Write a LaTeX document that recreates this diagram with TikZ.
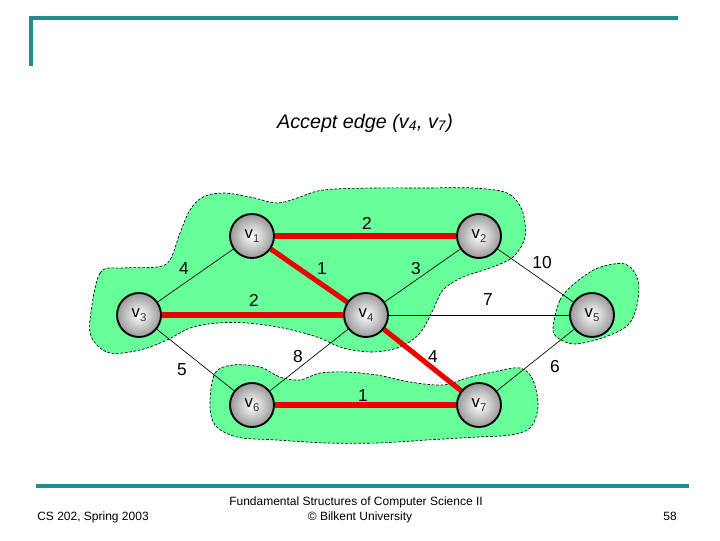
\documentclass[tikz,border=0pt]{standalone}
\usepackage{fontspec}
\setmainfont{Liberation Sans}
\pgfdeclarelayer{bg}
\pgfdeclarelayer{edges}
\pgfsetlayers{bg,edges,main}
\definecolor{teal1}{RGB}{32,140,140}
\definecolor{blobgreen}{RGB}{102,255,153}
\definecolor{redge}{RGB}{235,0,0}
\newcommand{\vlab}[1]{{\fontsize{12.5}{12.5}\selectfont v}\raisebox{-3.2pt}{\fontsize{8.5}{8.5}\selectfont\color{black!80}#1}}
\tikzset{
  vert/.style={circle, draw=black, line width=1.4pt, minimum size=33pt, inner sep=0pt,
    shading=radial, inner color=white, outer color=black!40},
  thinedge/.style={draw=black, line width=0.5pt},
  rededge/.style={draw=redge, line width=3.8pt},
  lbl/.style={inner sep=0pt, font=\fontsize{13}{13}\selectfont},
  blob/.style={fill=blobgreen, draw=black, line width=0.5pt, dash pattern=on 2pt off 1.3pt},
  rule/.style={draw=teal1, line width=2.3pt},
  foot/.style={inner sep=0pt, font=\fontsize{9}{11}\selectfont}
}
\begin{document}
\begin{tikzpicture}[x=0.75pt,y=-0.75pt]
\path[use as bounding box] (0,0) rectangle (720,540);
% frame rules
\coordinate (tl) at (31,66);
\coordinate (tc) at (31,18);
\coordinate (tr) at (678,18);
\draw[rule] (tl) -- (tc) -- (tr);
\coordinate (bl) at (36,486);
\coordinate (br) at (689,486);
\draw[rule] (bl) -- (br);
% title
\node[inner sep=0pt, font=\fontsize{14.8}{17}\selectfont\itshape] (title) at (365,123)
  {Accept edge (v\textsubscript{4}, v\textsubscript{7})};
% blobs
\begin{pgfonlayer}{bg}
\path[blob] plot[smooth cycle, tension=0.55] coordinates {
 (90,320) (100,273) (123,268) (157,267) (170,260) (180,233) (190,210) (203,197)
 (223,193) (250,197) (277,203) (297,198) (323,190) (373,188) (423,188) (473,188)
 (507,193) (522,210) (525,237) (513,257) (490,268) (463,277) (443,290) (433,310)
 (420,333) (400,347) (373,352) (343,348) (317,337) (283,328) (247,323) (217,323)
 (190,328) (167,340) (140,350) (110,353) (93,340)};
\path[blob] plot[smooth cycle, tension=0.55] coordinates {
 (210,403) (215,373) (233,365) (260,367) (280,377) (300,380) (320,373) (347,372)
 (377,375) (410,382) (443,385) (467,378) (493,372) (520,368) (533,380) (538,407)
 (530,428) (510,435) (477,437) (427,440) (377,443) (327,443) (277,440) (237,437)
 (215,425)};
\path[blob] plot[smooth cycle, tension=0.55] coordinates {
 (553,328) (560,300) (575,283) (598,268) (625,264) (638,280) (637,305) (628,325)
 (605,337) (575,344) (558,338)};
\end{pgfonlayer}
% vertices
\node[vert] (v1) at (252,236) {\vlab{1}};
\node[vert] (v2) at (479,236) {\vlab{2}};
\node[vert] (v3) at (139,315) {\vlab{3}};
\node[vert] (v4) at (366,315) {\vlab{4}};
\node[vert] (v5) at (592,315) {\vlab{5}};
\node[vert] (v6) at (252,405) {\vlab{6}};
\node[vert] (v7) at (479,405) {\vlab{7}};
% edges
\begin{pgfonlayer}{edges}
\path[thinedge] (v1) -- node[lbl, xshift=-8.6pt, yshift=4.9pt] {4} (v3);
\path[thinedge] (v2) -- node[lbl, xshift=-4.9pt, yshift=5.6pt] {3} (v4);
\path[thinedge] (v2) -- node[lbl, xshift=4.9pt, yshift=10.1pt] {10} (v5);
\path[thinedge] (v4) -- node[lbl, xshift=6.75pt, yshift=11.25pt] {7} (v5);
\path[thinedge] (v4) -- node[lbl, xshift=-8.25pt, yshift=2.25pt] {8} (v6);
\path[thinedge] (v3) -- node[lbl, xshift=-10.1pt, yshift=-7.5pt] {5} (v6);
\path[thinedge] (v5) -- node[lbl, xshift=14.6pt, yshift=-5.25pt] {6} (v7);
\path[rededge] (v1) -- node[lbl, xshift=1pt, yshift=9.75pt] {2} (v2);
\path[rededge] (v1) -- node[lbl, xshift=9.75pt, yshift=5.6pt] {1} (v4);
\path[rededge] (v3) -- node[lbl, xshift=1.1pt, yshift=11.25pt] {2} (v4);
\path[rededge] (v4) -- node[lbl, xshift=7.9pt, yshift=2.25pt] {4} (v7);
\path[rededge] (v6) -- node[lbl, xshift=-1.9pt, yshift=7pt] {1} (v7);
\end{pgfonlayer}
% footer
\node[foot] (f1) at (93,517) {CS 202, Spring 2003};
\node[foot] (f2) at (356,502) {Fundamental Structures of Computer Science II};
\node[foot] (f3) at (360,517) {\textcopyright\ Bilkent University};
\node[foot] (f4) at (670,516) {58};
\end{tikzpicture}
\end{document}
